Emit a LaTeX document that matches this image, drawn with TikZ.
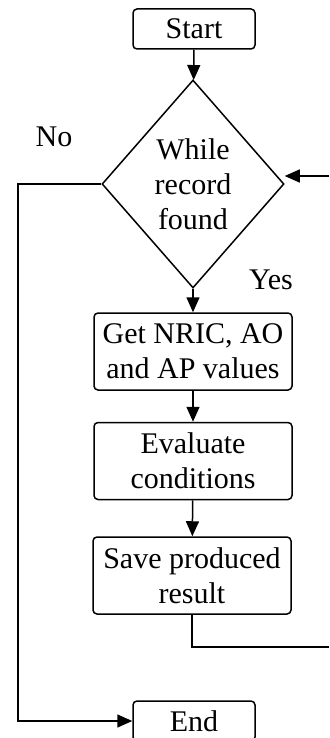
\documentclass[tikz,border=0pt]{standalone}
\usepackage{fontspec}
\setmainfont{Liberation Serif}
\usetikzlibrary{shapes.geometric,arrows.meta}

\begin{document}
\begin{tikzpicture}[x=0.5pt,y=-0.5pt,
  line width=0.75pt,
  >={Triangle[length=7.5pt,width=6.5pt]},
  font=\fontsize{15}{17.5}\selectfont,
  term/.style={draw,rounded corners=2pt,minimum width=61pt,minimum height=20pt,inner sep=1pt},
  box/.style={draw,rounded corners=2pt,align=center,minimum width=99pt,minimum height=38.5pt,inner sep=1pt},
  cond/.style={draw,diamond,aspect=0.875,minimum width=91pt,minimum height=104pt,inner sep=0pt,align=center}]

\useasboundingbox (0,0) rectangle (329,738);

\node[term] (start) at (194,29) {Start};
\node[cond] (while) at (193,184) {While\\record\\found};
\node[box] (get) at (193,351.5) {Get NRIC, AO\\and AP values};
\node[box] (eval) at (193,461) {Evaluate\\conditions};
\node[box] (save) at (192,575.5) {Save produced\\result};
\node[term] (end) at (194,721) {End};

\node (no) at (54,137) {No};
\node (yes) at (271,280) {Yes};

\coordinate (backin) at (329,176);
\coordinate (backout) at (329,647);
\coordinate (leftturn) at (18,184);

\draw[->] (start) -- (while);
\draw[->] (while) -- (get);
\draw[->] (get) -- (eval);
\draw[->] (eval) -- (save);
\draw (save.south) |- (backout); % loop back, leaves the picture
\draw[->] (backin) -- (while.east |- backin);
\draw[->] (while.west) -- (leftturn) |- (end.west);

\end{tikzpicture}
\end{document}
